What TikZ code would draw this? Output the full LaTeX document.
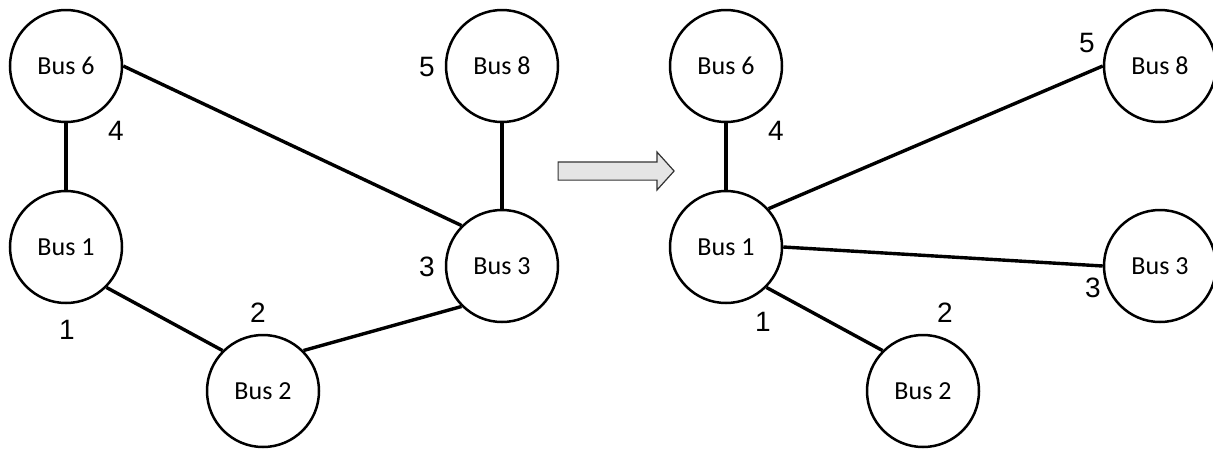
\documentclass[tikz,border=0pt]{standalone}
\usepackage{xcolor}
\usepackage{fontspec}
\setmainfont{Carlito}
\newfontfamily\numfont{Liberation Sans}
\usetikzlibrary{shapes.arrows}

\begin{document}
\begin{tikzpicture}[x=1pt,y=-1pt]
			\tikzstyle{bus}=[draw, circle, line width=2.5pt, minimum size=112pt, inner sep=0pt, font=\fontsize{26}{30}\selectfont]
			\tikzstyle{num} = [font=\numfont\fontsize{28}{30}\selectfont, inner sep=0pt]
			\tikzset{edge/.style = {-, line width=3.4pt}}
			\useasboundingbox (0,0) rectangle (1213,448);
			
			% before
			\node[bus](bus6) at (66,66) {Bus 6};
			\node[bus](bus8) at (502,66) {Bus 8};
			\node[bus](bus1) at (66,247) {Bus 1};
			\node[bus](bus3) at (502,266) {Bus 3};
			\node[bus](bus2) at (263,391) {Bus 2};
			\draw[edge](bus6.east) to (bus3.135);
			\draw[edge](bus6.south) to (bus1.north);
			\draw[edge](bus8.south) to (bus3.north);
			\draw[edge](bus1.-45) to (bus2.135);
			\draw[edge](bus2.45) to (bus3.225);
			
			\node[num](num4) at (116,131) {4};
			\node[num](num5) at (427,67) {5};
			\node[num](num3) at (427,267) {3};
			\node[num](num1) at (67,330) {1};
			\node[num](num2) at (258,313) {2};
			
			\node[single arrow, draw=black!80, fill=gray!20, line width=1.2pt, minimum height=116pt, inner xsep=0pt, inner ysep=8.5pt, single arrow head extend=10pt, single arrow tip angle=96](arrow) at (612,171) {};
			
			% after
			\node[bus](newbus6) at (726,66) {Bus 6};
			\node[bus](newbus8) at (1160,66) {Bus 8};
			\node[bus](newbus1) at (726,247) {Bus 1};
			\node[bus](newbus3) at (1160,266) {Bus 3};
			\node[bus](newbus2) at (923,391) {Bus 2};
			\draw[edge](newbus6.south) to (newbus1.north);
			\draw[edge](newbus1.42) to (newbus8.west);
			\draw[edge](newbus1.east) to (newbus3.west);
			\draw[edge](newbus1.-45) to (newbus2.135);
			
			\node[num](newnum4) at (776,131) {4};
			\node[num](newnum5) at (1087,43) {5};
			\node[num](newnum3) at (1093,288) {3};
			\node[num](newnum1) at (763,322) {1};
			\node[num](newnum2) at (945,313) {2};
			
			\end{tikzpicture}
\end{document}
